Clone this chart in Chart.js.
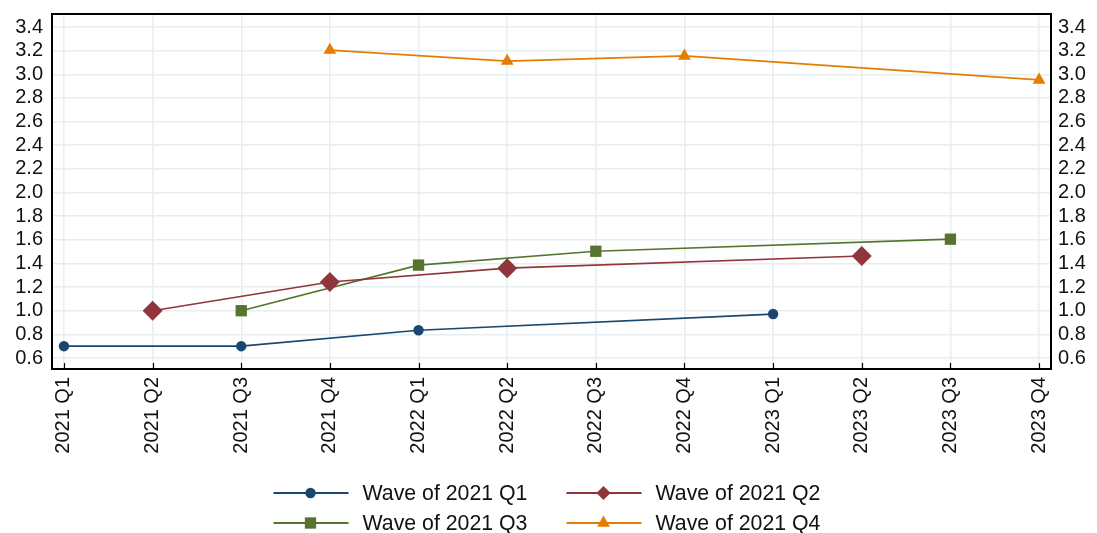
<!DOCTYPE html>
<html>
<head>
<meta charset="utf-8">
<script src="https://cdn.jsdelivr.net/npm/chart.js@4/dist/chart.umd.min.js"></script>
<style>
    html, body { margin: 0; padding: 0; background: #ffffff; }
    #wrap { width: 1097px; height: 533px; position: relative; }
</style>
</head>
<body>
<div id="wrap"><canvas id="waveChart"></canvas></div>
<script>
// ============================================
// DATA
// ============================================

const quarters = [
    "2021 Q1", "2021 Q2", "2021 Q3", "2021 Q4",
    "2022 Q1", "2022 Q2", "2022 Q3", "2022 Q4",
    "2023 Q1", "2023 Q2", "2023 Q3", "2023 Q4",
];

const seriesNames = ["Wave of 2021 Q1", "Wave of 2021 Q2", "Wave of 2021 Q3", "Wave of 2021 Q4"];

const waveQ1 = [0.70, null, 0.70, null, 0.835, null, null, null, 0.972, null, null, null];
const waveQ2 = [null, 1.00, null, 1.243, null, 1.36, null, null, null, 1.463, null, null];
const waveQ3 = [null, null, 1.00, null, 1.386, null, 1.503, null, null, null, 1.605, null];
const waveQ4 = [null, null, null, 3.205, null, 3.112, null, 3.155, null, null, null, 2.952];

const yTickStep = 0.2;

// ============================================
// STYLE
// ============================================

const seriesColors = ["#1a476f", "#90353b", "#55752f", "#e37e00"];
const seriesMarkers = ["circle", "rectRot", "rect", "triangle"];
const markerRadius = [5.2, 10, 8, 7.4];
const gridColor = "#e6eef0";
const tickFont = { family: "'Liberation Sans', Arial, sans-serif", size: 20 };

const toPoints = (values) =>
    values.map((v, i) => ({ x: i, y: v }));

// ============================================
// PLUGINS
// ============================================

// black frame round the plot region plus small inward x ticks
const framePlugin = {
    id: "frame",
    afterDatasetsDraw(chart) {
        const { ctx, chartArea, scales } = chart;
        ctx.save();
        ctx.strokeStyle = "#000000";
        ctx.lineWidth = 1.2;
        scales.x.ticks.forEach((t) => {
            const px = Math.round(scales.x.getPixelForValue(t.value)) + 0.5;
            ctx.beginPath();
            ctx.moveTo(px, chartArea.bottom);
            ctx.lineTo(px, chartArea.bottom - 6);
            ctx.stroke();
        });
        ctx.lineWidth = 2;
        ctx.strokeRect(chartArea.left, chartArea.top, chartArea.width, chartArea.height);
        ctx.restore();
    },
};

function drawMarker(ctx, style, x, y, r, color) {
    ctx.fillStyle = color;
    ctx.beginPath();
    if (style === "circle") {
        ctx.arc(x, y, r, 0, Math.PI * 2);
    } else if (style === "rect") {
        const s = r * Math.SQRT1_2;
        ctx.rect(x - s, y - s, 2 * s, 2 * s);
    } else if (style === "rectRot") {
        const s = r * Math.SQRT1_2;
        ctx.moveTo(x - s, y);
        ctx.lineTo(x, y - s);
        ctx.lineTo(x + s, y);
        ctx.lineTo(x, y + s);
        ctx.closePath();
    } else if (style === "triangle") {
        const h = r * 1.5;
        const w = r * Math.sqrt(3) / 2;
        ctx.moveTo(x, y - r);
        ctx.lineTo(x + w, y + h - r);
        ctx.lineTo(x - w, y + h - r);
        ctx.closePath();
    }
    ctx.fill();
}

// two-column legend below the axis, line + marker + label
const legendPlugin = {
    id: "waveLegend",
    afterDraw(chart) {
        const { ctx, width, height } = chart;
        const cx = width / 2;
        ctx.save();
        ctx.font = "21.3px 'Liberation Sans', Arial, sans-serif";
        ctx.textBaseline = "middle";
        ctx.textAlign = "left";
        chart.data.datasets.forEach((ds, i) => {
            const col = i % 2;
            const row = Math.floor(i / 2);
            const x0 = cx - 275 + col * 293;
            const y = height - 40 + row * 30;
            ctx.strokeStyle = ds.borderColor;
            ctx.lineWidth = 1.8;
            ctx.beginPath();
            ctx.moveTo(x0, y);
            ctx.lineTo(x0 + 75, y);
            ctx.stroke();
            drawMarker(ctx, ds.pointStyle, x0 + 37, y, ds.pointRadius, ds.borderColor);
            ctx.fillStyle = "#111111";
            ctx.fillText(ds.label, x0 + 89, y + 1);
        });
        ctx.restore();
    },
};

// ============================================
// CHART
// ============================================

const seriesValues = [waveQ1, waveQ2, waveQ3, waveQ4];

const datasets = seriesValues.map((values, i) => ({
    label: seriesNames[i],
    data: toPoints(values),
    borderColor: seriesColors[i],
    backgroundColor: seriesColors[i],
    borderWidth: 1.7,
    pointStyle: seriesMarkers[i],
    pointRadius: markerRadius[i],
    pointHoverRadius: markerRadius[i],
    pointBorderWidth: 0,
    spanGaps: true,
    tension: 0,
}));

const yAxisCommon = {
    type: "linear",
    min: 0.507,
    max: 3.51,
    border: { display: false },
    ticks: {
        stepSize: yTickStep,
        includeBounds: false,
        autoSkip: false,
        color: "#111111",
        font: tickFont,
        callback: (v) => v.toFixed(1),
    },
};

const fitY = (w) => (scale) => {
    scale.width = w;
    scale.paddingTop = 0;
    scale.paddingBottom = 0;
};

new Chart(document.getElementById("waveChart"), {
    type: "line",
    data: { datasets },
    options: {
        responsive: true,
        maintainAspectRatio: false,
        animation: false,
        events: [],
        layout: { padding: { top: 14, bottom: 64, left: 0, right: 0 } },
        plugins: {
            legend: { display: false },
            tooltip: { enabled: false },
        },
        scales: {
            x: {
                type: "linear",
                min: -0.135,
                max: 11.135,
                border: { display: false },
                grid: { color: gridColor, lineWidth: 1.5, drawTicks: false },
                ticks: {
                    stepSize: 1,
                    includeBounds: false,
                    autoSkip: false,
                    maxRotation: 90,
                    minRotation: 90,
                    padding: 8,
                    color: "#111111",
                    font: tickFont,
                    callback: (v) => quarters[v] ?? "",
                },
                afterFit: (scale) => {
                    scale.height = 100;
                    scale.paddingLeft = 0;
                    scale.paddingRight = 0;
                },
            },
            y: {
                ...yAxisCommon,
                position: "left",
                grid: { color: gridColor, lineWidth: 1.5, drawTicks: false },
                ticks: { ...yAxisCommon.ticks, padding: 9 },
                afterFit: fitY(52),
            },
            y2: {
                ...yAxisCommon,
                position: "right",
                grid: { display: false, drawTicks: false },
                ticks: { ...yAxisCommon.ticks, padding: 7 },
                afterFit: fitY(46),
            },
        },
    },
    plugins: [framePlugin, legendPlugin],
});
</script>
</body>
</html>
